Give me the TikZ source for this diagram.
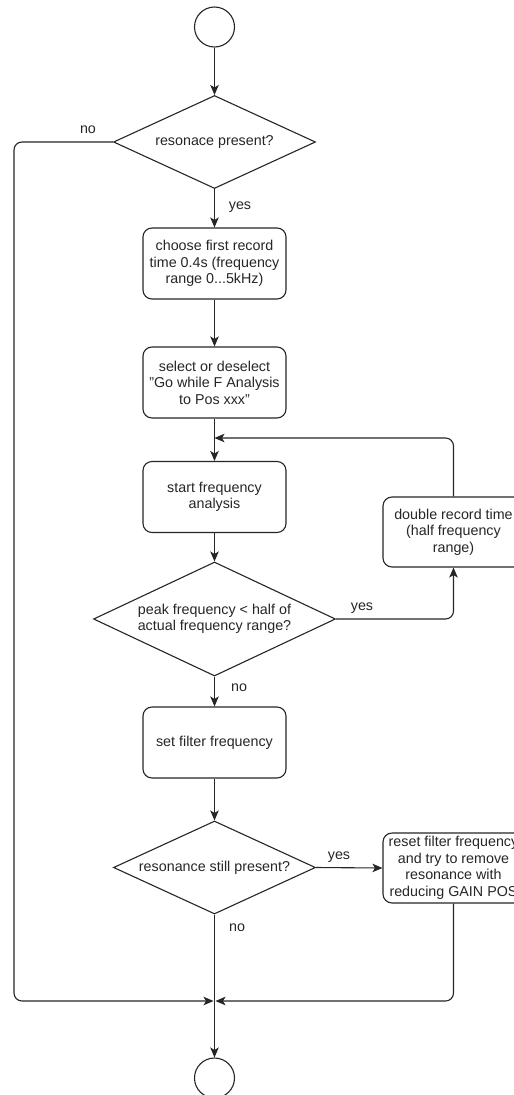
\documentclass[tikz,border=0pt]{standalone}
\usepackage{fontspec}
\setmainfont{Liberation Sans}
\usetikzlibrary{shapes.geometric,arrows.meta}
\begin{document}
\begin{tikzpicture}[x=1pt,y=-1pt,
  every node/.style={font=\fontsize{14.3}{16.5}\selectfont, text=black!85},
  flow/.style={line width=1.1pt, draw=black!85, -{Stealth[length=10pt,width=8.5pt,inset=2.5pt]}},
  term/.style={circle, draw=black!85, line width=1.1pt, minimum size=40pt, inner sep=0pt},
  proc/.style={rectangle, rounded corners=9pt, draw=black!85, line width=1.1pt, minimum width=143pt, minimum height=71pt, align=center, inner sep=2pt},
  dec/.style={diamond, draw=black!85, line width=1.1pt, align=center, inner sep=0pt},
  lbl/.style={inner sep=0pt}
]
\path[use as bounding box, clip] (0,0) rectangle (514,1095);
\fill[white] (0,0) rectangle (514,1095);

\node[term] (start) at (214.5,27) {};
\node[dec, shape aspect=2.17, minimum width=202pt, minimum height=93pt] (d1) at (214.5,142) {resonace present?};
\node[proc] (b1) at (214.5,263.5) {choose first record\\time 0.4s (frequency\\range 0...5kHz)};
\node[proc] (b2) at (214.5,382.5) {select or deselect\\\symbol{34}Go while F Analysis\\to Pos xxx\symbol{34}};
\node[proc] (b3) at (214.5,497) {start frequency\\analysis};
\node[dec, shape aspect=2.12, minimum width=242pt, minimum height=114pt] (d2) at (214.5,619) {peak frequency < half of\\actual frequency range?};
\node[proc, minimum width=141pt, minimum height=70pt] (b4) at (453.5,532) {double record time\\(half frequency\\range)};
\node[proc] (b5) at (214.5,742.5) {set filter frequency};
\node[dec, shape aspect=2.17, minimum width=202pt, minimum height=93pt] (d3) at (214.5,867.5) {resonance still present?};
\node[proc, minimum width=141pt, minimum height=70pt] (b6) at (453.5,868) {reset filter frequency\\and try to remove\\resonance with\\reducing GAIN POS};
\node[term] (end) at (214.5,1078) {};

\coordinate (j1) at (214.5,438);
\coordinate (m) at (214.5,1001);

\draw[flow] (start) -- (d1);
\draw[flow] (d1) -- (b1);
\draw[flow] (b1) -- (b2);
\draw[flow] (b2) -- (b3);
\draw[flow] (b3) -- (d2);
\draw[flow, rounded corners=8pt] (d2.east) -| (b4.south);
\draw[flow, rounded corners=8pt] (b4.north) |- (j1);
\draw[flow] (d2) -- (b5);
\draw[flow] (b5) -- (d3);
\draw[flow] (d3.east) -- (b6.west);
\draw[flow] (d3.south) -- (end.north);
\draw[flow, rounded corners=8pt, shorten >=1pt] (d1.west) -- (14,142) -- (14,1001) -- (m);
\draw[flow, rounded corners=8pt, shorten >=1pt] (b6.south) |- (m);

\node[lbl] (n1) at (88,130) {no};
\node[lbl] (y1) at (240,207) {yes};
\node[lbl] (y2) at (362,608) {yes};
\node[lbl] (n2) at (239,688) {no};
\node[lbl] (y3) at (339,857) {yes};
\node[lbl] (n3) at (237,928) {no};
\end{tikzpicture}
\end{document}
